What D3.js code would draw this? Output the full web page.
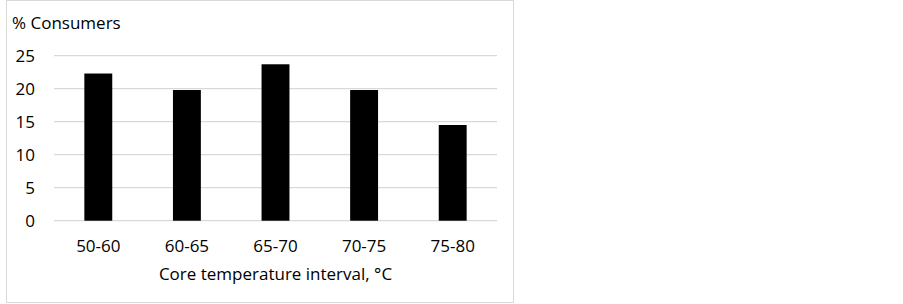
<!DOCTYPE html>
<html>
<head>
<meta charset="utf-8">
<script src="https://cdn.jsdelivr.net/npm/d3@7"></script>
<style>
  html, body { margin: 0; padding: 0; background: #fff; }
  svg { display: block; }
  text { font-family: "Open Sans", "Liberation Sans", sans-serif; fill: #000; }
</style>
</head>
<body>
<svg id="chart" width="903" height="304"></svg>
<script>
const categories = ["50-60", "60-65", "65-70", "70-75", "75-80"];
const values = [22.3, 19.8, 23.7, 19.8, 14.5];
const yTicks = [0, 5, 10, 15, 20, 25];
const yLabel = "% Consumers";
const xLabel = "Core temperature interval, °C";

const svg = d3.select("#chart");

// outer frame
svg.append("rect")
  .attr("x", 6.5).attr("y", 0.5)
  .attr("width", 507).attr("height", 302)
  .attr("fill", "#fff").attr("stroke", "#d9d9d9").attr("stroke-width", 1);

const plotLeft = 54, plotRight = 497, plotTop = 55.7, plotBottom = 220.7;

const x = d3.scaleBand().domain(categories).range([plotLeft, plotRight]).paddingInner(0.685).paddingOuter(0.3425);
const y = d3.scaleLinear().domain([0, 25]).range([plotBottom, plotTop]);

// gridlines
svg.append("g").selectAll("line").data(yTicks).join("line")
  .attr("x1", plotLeft).attr("x2", plotRight)
  .attr("y1", d => y(d)).attr("y2", d => y(d))
  .attr("stroke", "#d9d9d9").attr("stroke-width", 1.3);

// bars
svg.append("g").selectAll("rect").data(values).join("rect")
  .attr("x", (d, i) => x(categories[i]))
  .attr("y", d => y(d))
  .attr("width", x.bandwidth())
  .attr("height", d => y(0) - y(d))
  .attr("fill", "#000");

// y axis labels
const yAxis = d3.axisLeft(y).tickValues(yTicks).tickSize(0).tickPadding(0);
const gy = svg.append("g").attr("transform", "translate(35,0)").call(yAxis);
gy.select(".domain").remove();
gy.selectAll("text").attr("font-size", 17).attr("font-family", "'Open Sans', sans-serif").attr("fill", "#000").attr("dy", "0.35em");

// x axis labels
const xAxis = d3.axisBottom(x).tickSize(0).tickPadding(0);
const gx = svg.append("g").attr("transform", "translate(0,252)").call(xAxis);
gx.select(".domain").remove();
gx.selectAll("text").attr("font-size", 17).attr("font-family", "'Open Sans', sans-serif").attr("fill", "#000").attr("dy", 0);

// titles
svg.append("text").attr("x", 12).attr("y", 29).attr("font-size", 17).text(yLabel);
svg.append("text").attr("x", (plotLeft + plotRight) / 2).attr("y", 280).attr("text-anchor", "middle").attr("font-size", 17).text(xLabel);
</script>
</body>
</html>
